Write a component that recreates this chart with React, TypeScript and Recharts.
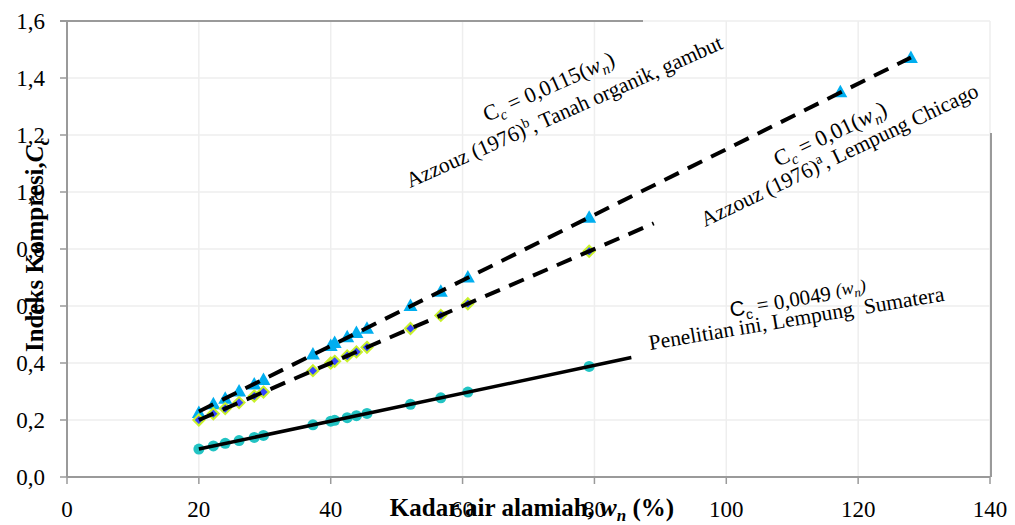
import { ScatterChart, Scatter, XAxis, YAxis, CartesianGrid } from "recharts";

// kadar air alamiah (%) shared by the three data sets
const wn = [20, 22.2, 24, 26.1, 28.4, 29.8, 37.3, 40, 40.6, 42.5, 43.9, 45.5, 52.1, 56.7, 60.8, 79.2];
const ccPenelitian = [0.098, 0.109, 0.118, 0.128, 0.139, 0.146, 0.183, 0.196, 0.199, 0.208, 0.215, 0.223, 0.255, 0.278, 0.298, 0.388];
const ccAzzouzA = [0.2, 0.222, 0.24, 0.261, 0.284, 0.298, 0.373, 0.4, 0.406, 0.425, 0.439, 0.455, 0.521, 0.567, 0.608, 0.792];
const wnAzzouzB = [...wn, 117.3, 128];
const ccAzzouzB = [0.225, 0.255, 0.275, 0.3, 0.325, 0.34, 0.43, 0.46, 0.47, 0.49, 0.505, 0.52, 0.6, 0.65, 0.7, 0.91, 1.35, 1.47];

// trend lines (end points)
const fitPenelitianX = [20, 85.6];
const fitPenelitianY = [0.098, 0.419];
const fitAX = [20, 89];
const fitAY = [0.2, 0.89];
const fitBX = [20, 128];
const fitBY = [0.23, 1.472];

const xTicks = [0, 20, 40, 60, 80, 100, 120, 140];
const yTicks = [0, 0.2, 0.4, 0.6, 0.8, 1.0, 1.2, 1.4, 1.6];

const zip = (xs: number[], ys: number[]) => xs.map((x, i) => ({ x, y: ys[i] }));

const serif = '"Liberation Serif", "Times New Roman", serif';
const sans = '"Liberation Sans", Arial, sans-serif';
const axisGray = "#9a9a9a";

const Circle = (p: any) => <circle cx={p.cx} cy={p.cy} r={5.5} fill="#22c3c3" />;
const Triangle = (p: any) => (
  <polygon
    points={`${p.cx},${p.cy - 7.5} ${p.cx + 7},${p.cy + 5} ${p.cx - 7},${p.cy + 5}`}
    fill="#00aeef"
  />
);
const Diamond = (p: any) => (
  <polygon
    points={`${p.cx},${p.cy - 5.5} ${p.cx + 5.5},${p.cy} ${p.cx},${p.cy + 5.5} ${p.cx - 5.5},${p.cy}`}
    fill="#3344ff"
    stroke="#c8f02a"
    strokeWidth={2}
  />
);
const NoDot = () => <g />;

export default function App() {
  return (
    <div style={{ position: "absolute", left: 0, top: 0, width: 1015, height: 525, background: "#fff" }}>
      <ScatterChart width={1015} height={525} margin={{ top: 21, right: 25, bottom: 18, left: 0 }}>
        <CartesianGrid stroke="#eeeeee" strokeWidth={1.5} />
        <XAxis
          type="number"
          dataKey="x"
          domain={[0, 140]}
          ticks={xTicks}
          height={30}
          tickSize={7}
          tickMargin={17}
          axisLine={{ stroke: axisGray, strokeWidth: 2 }}
          tickLine={{ stroke: axisGray, strokeWidth: 1.5 }}
          tick={{ fill: "#000", fontSize: 23, fontFamily: serif }}
        />
        <YAxis
          type="number"
          dataKey="y"
          domain={[0, 1.6]}
          ticks={yTicks}
          width={67}
          tickSize={7}
          tickMargin={15}
          tickFormatter={(v: number) => v.toFixed(1).replace(".", ",")}
          axisLine={{ stroke: axisGray, strokeWidth: 2 }}
          tickLine={{ stroke: axisGray, strokeWidth: 1.5 }}
          tick={{ fill: "#000", fontSize: 23, fontFamily: serif }}
        />
        <Scatter data={zip(wnAzzouzB, ccAzzouzB)} shape={Triangle} isAnimationActive={false} />
        <Scatter data={zip(wn, ccAzzouzA)} shape={Diamond} isAnimationActive={false} />
        <Scatter data={zip(wn, ccPenelitian)} shape={Circle} isAnimationActive={false} />
        <Scatter
          data={zip(fitBX, fitBY)}
          shape={NoDot}
          line={{ stroke: "#000", strokeWidth: 4, strokeDasharray: "16 10" }}
          isAnimationActive={false}
        />
        <Scatter
          data={zip(fitAX, fitAY)}
          shape={NoDot}
          line={{ stroke: "#000", strokeWidth: 4, strokeDasharray: "16 10" }}
          isAnimationActive={false}
        />
        <Scatter
          data={zip(fitPenelitianX, fitPenelitianY)}
          shape={NoDot}
          line={{ stroke: "#000", strokeWidth: 3.5 }}
          isAnimationActive={false}
        />
      </ScatterChart>
      <svg
        width={1015}
        height={525}
        style={{ position: "absolute", left: 0, top: 0, pointerEvents: "none" }}
        fontFamily={serif}
      >
        {/* remains of the plot frame */}
        <line x1={60} y1={21} x2={643} y2={21} stroke={axisGray} strokeWidth={2} />
        <line x1={991} y1={133} x2={991} y2={477} stroke={axisGray} strokeWidth={2} />

        {/* axis titles */}
        <text x={532} y={516} textAnchor="middle" fontSize={25} fontWeight="bold">
          Kadar air alamiah,{" "}
          <tspan fontStyle="italic">w</tspan>
          <tspan fontStyle="italic" fontSize={17} dy={5}>n</tspan>
          <tspan dy={-5}> (%)</tspan>
        </text>
        <text
          x={0}
          y={0}
          transform="translate(43,245) rotate(-90)"
          textAnchor="middle"
          fontSize={25}
          fontWeight="bold"
        >
          Indeks Kompresi,<tspan fontStyle="italic">C</tspan>
          <tspan fontSize={17} dy={6}>c</tspan>
        </text>

        {/* Azzouz b */}
        <g transform="translate(487,122) rotate(-24)">
          <text x={0} y={0} fontSize={22}>
            C<tspan fontSize={15} fontStyle="italic" dy={5}>c</tspan>
            <tspan dy={-5}> = 0,0115(</tspan>
            <tspan fontStyle="italic">w</tspan>
            <tspan fontSize={15} fontStyle="italic" dy={5}>n</tspan>
            <tspan dy={-5}>)</tspan>
          </text>
        </g>
        <g transform="translate(410,188) rotate(-24)">
          <text x={0} y={0} fontSize={21.5}>
            Azzouz (1976)<tspan fontSize={14} dy={-8}>b</tspan>
            <tspan dy={8}>, Tanah organik, gambut</tspan>
          </text>
        </g>

        {/* Azzouz a */}
        <g transform="translate(778,167) rotate(-25.5)">
          <text x={0} y={0} fontSize={22.5}>
            C<tspan fontSize={15} fontStyle="italic" dy={5}>c</tspan>
            <tspan dy={-5}> = 0,01(</tspan>
            <tspan fontStyle="italic">w</tspan>
            <tspan fontSize={15} fontStyle="italic" dy={5}>n</tspan>
            <tspan dy={-5}>)</tspan>
          </text>
        </g>
        <g transform="translate(705,227) rotate(-25.5)">
          <text x={0} y={0} fontSize={21.5}>
            Azzouz (1976)<tspan fontSize={14} dy={-8}>a</tspan>
            <tspan dy={8}>, Lempung Chicago</tspan>
          </text>
        </g>

        {/* penelitian ini */}
        <g transform="translate(731,317) rotate(-9.5)">
          <text x={0} y={0} fontSize={21}>
            <tspan fontFamily={sans}>C</tspan>
            <tspan fontSize={14} fontFamily={sans} dy={5}>c</tspan>
            <tspan dy={-5}> = 0,0049 </tspan>
            <tspan fontStyle="italic" fontSize={18} dy={-3}>(w</tspan>
            <tspan fontStyle="italic" fontSize={13} dy={4}>n</tspan>
            <tspan fontStyle="italic" fontSize={18} dy={-4}>)</tspan>
          </text>
        </g>
        <g transform="translate(650,350) rotate(-9.5)">
          <text x={0} y={0} fontSize={21.5} style={{ whiteSpace: "pre" }}>
            Penelitian ini, Lempung  Sumatera
          </text>
        </g>
      </svg>
    </div>
  );
}
